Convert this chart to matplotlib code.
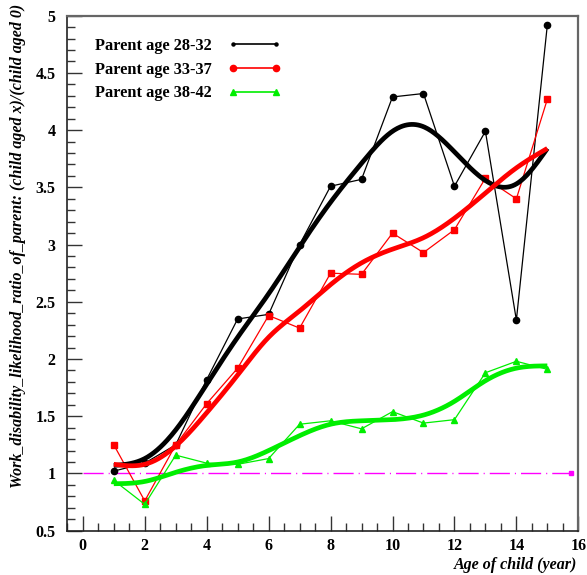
import numpy as np
import matplotlib
matplotlib.use("Agg")
import matplotlib.pyplot as plt
from matplotlib.lines import Line2D
from matplotlib.ticker import MultipleLocator

# ---------------- data ----------------
ages = [1, 2, 3, 4, 5, 6, 7, 8, 9, 10, 11, 12, 13, 14, 15]
labels = ["Parent age 28-32", "Parent age 33-37", "Parent age 38-42"]

ratio_28_32 = [1.02, 1.09, 1.25, 1.82, 2.35, 2.39, 3.00, 3.51, 3.57, 4.29, 4.32, 3.51, 3.99, 2.34, 4.92]
ratio_33_37 = [1.25, 0.76, 1.25, 1.61, 1.92, 2.38, 2.27, 2.75, 2.74, 3.10, 2.93, 3.13, 3.58, 3.40, 4.27]
ratio_38_42 = [0.94, 0.73, 1.16, 1.09, 1.08, 1.13, 1.43, 1.46, 1.39, 1.54, 1.44, 1.47, 1.88, 1.98, 1.91]

# smooth fitted curves, read at each age
smooth_28_32 = [1.07, 1.13, 1.38, 1.78, 2.19, 2.57, 2.98, 3.37, 3.71, 3.99, 4.03, 3.81, 3.56, 3.53, 3.84]
smooth_33_37 = [1.08, 1.08, 1.24, 1.53, 1.86, 2.19, 2.42, 2.65, 2.84, 2.96, 3.06, 3.23, 3.45, 3.67, 3.84]
smooth_38_42 = [0.91, 0.93, 1.01, 1.07, 1.10, 1.20, 1.33, 1.43, 1.46, 1.47, 1.51, 1.63, 1.81, 1.92, 1.94]

reference_level = 1.0
reference_span = [0, 16]
reference_marker_x = [15.75]


def natural_spline(x, y, n=400):
    x = np.asarray(x, float)
    y = np.asarray(y, float)
    m = len(x)
    h = np.diff(x)
    A = np.zeros((m, m))
    r = np.zeros(m)
    A[0, 0] = A[-1, -1] = 1
    for i in range(1, m - 1):
        A[i, i - 1] = h[i - 1]
        A[i, i] = 2 * (h[i - 1] + h[i])
        A[i, i + 1] = h[i]
        r[i] = 6 * ((y[i + 1] - y[i]) / h[i] - (y[i] - y[i - 1]) / h[i - 1])
    M = np.linalg.solve(A, r)
    xs = np.linspace(x[0], x[-1], n)
    idx = np.clip(np.searchsorted(x, xs) - 1, 0, m - 2)
    x0, x1 = x[idx], x[idx + 1]
    hh = x1 - x0
    t0 = x1 - xs
    t1 = xs - x0
    ys = (M[idx] * t0 ** 3 / (6 * hh) + M[idx + 1] * t1 ** 3 / (6 * hh)
          + (y[idx] / hh - M[idx] * hh / 6) * t0
          + (y[idx + 1] / hh - M[idx + 1] * hh / 6) * t1)
    return xs, ys


plt.rcParams['font.family'] = ['Liberation Serif', 'DejaVu Serif']

fig = plt.figure(figsize=(5.87, 5.75), dpi=100)
ax = fig.add_axes([0.1147, 0.0771, 0.9852 - 0.1147, 0.9727 - 0.0771])

colors = ['black', '#ff0000', '#00ee00']
markers = ['o', 's', '^']
msizes = [4.5, 4.5, 4.5]
raw = [ratio_28_32, ratio_33_37, ratio_38_42]
smooth = [smooth_28_32, smooth_33_37, smooth_38_42]

# reference line
ax.plot(reference_span, [reference_level, reference_level], color='#ff00ff',
        lw=1.0, dashes=(14.5, 3.6, 0.8, 3.6), dash_capstyle='butt', zorder=1)
ax.plot(reference_marker_x, [reference_level], color='#ff00ff', marker='s',
        ms=3, ls='none', zorder=1)

for c, mk, ms, yv, sv in zip(colors, markers, msizes, raw, smooth):
    ax.plot(ages, yv, color=c, lw=0.9, marker=mk, ms=ms, mec=c, mfc=c, zorder=3)
    xs, ys = natural_spline(ages, sv)
    ax.plot(xs, ys, color=c, lw=3.4, solid_capstyle='butt', zorder=4)

ax.set_xlim(-0.5, 16)
ax.set_ylim(0.5, 5)

ax.xaxis.set_major_locator(MultipleLocator(2))
ax.xaxis.set_minor_locator(MultipleLocator(0.5))
ax.yaxis.set_major_locator(MultipleLocator(0.5))
ax.yaxis.set_minor_locator(MultipleLocator(0.1))
ax.tick_params(which='both', direction='in', top=False, right=False, width=1.0, color='#333333')
ax.tick_params(which='major', length=11)
ax.tick_params(which='minor', length=5.5)
ax.tick_params(axis='x', which='major', pad=5.5, labelsize=11.5)
ax.tick_params(axis='y', which='major', pad=8.5, labelsize=11.5)
for lab in ax.get_xticklabels() + ax.get_yticklabels():
    lab.set_fontweight('bold')


def fmt(v, pos):
    return f"{v:g}"

ax.yaxis.set_major_formatter(plt.FuncFormatter(fmt))
ax.xaxis.set_major_formatter(plt.FuncFormatter(fmt))

for side in ['left', 'bottom']:
    ax.spines[side].set_linewidth(1.2)
    ax.spines[side].set_color('#222222')
for side in ['right', 'top']:
    ax.spines[side].set_linewidth(1.6)
    ax.spines[side].set_color('#666666')

fig.text(0.984, 0.0105, 'Age of child (year)', ha='right', va='baseline',
         fontsize=11.5, fontweight='bold', fontstyle='italic')
fig.text(0.031, 0.993, 'Work_disability_likelihood_ratio_of_parent: (child aged x)/(child aged 0)',
         rotation=90, ha='center', va='top', fontsize=11.5, fontweight='bold', fontstyle='italic')

handles = [
    Line2D([], [], color='black', lw=1.2, marker='o', ms=2.2),
    Line2D([], [], color='#ff0000', lw=1.2, marker='o', ms=4.5),
    Line2D([], [], color='#00ee00', lw=1.2, marker='^', ms=4.5),
]
leg = ax.legend(handles, labels, loc='upper left', bbox_to_anchor=(0.162, 0.934),
                bbox_transform=fig.transFigure, frameon=False, markerfirst=False,
                handlelength=3.2, handletextpad=1.0, labelspacing=0.47,
                borderpad=0.0, borderaxespad=0.0, numpoints=2,
                prop={'weight': 'bold', 'size': 11.8})

fig.savefig('out.png', dpi=100)
